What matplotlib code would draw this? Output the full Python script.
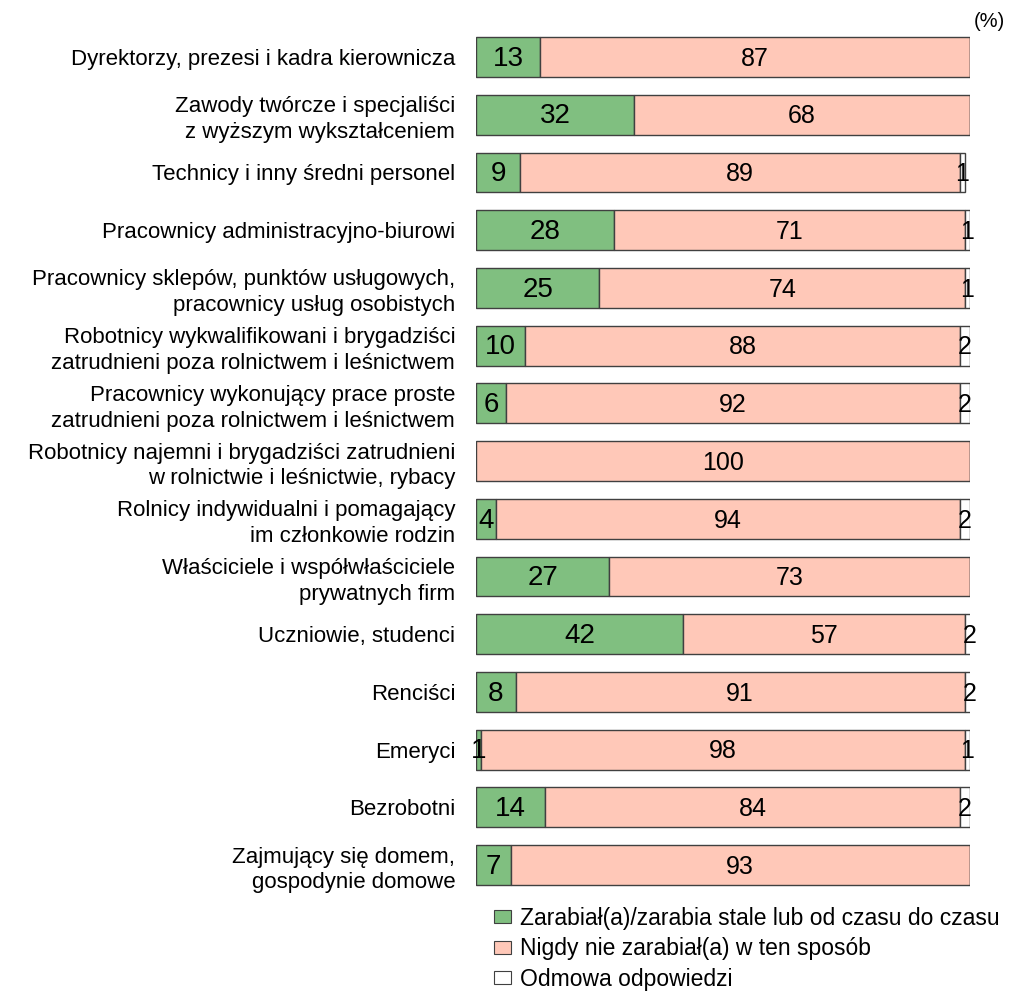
import matplotlib
matplotlib.use("Agg")
import matplotlib.pyplot as plt
import numpy as np
from matplotlib.patches import Patch

plt.rcParams["font.family"] = ["Liberation Sans", "DejaVu Sans"]

categories = [
    "Dyrektorzy, prezesi i kadra kierownicza",
    "Zawody twórcze i specjaliści\nz wyższym wykształceniem",
    "Technicy i inny średni personel",
    "Pracownicy administracyjno-biurowi",
    "Pracownicy sklepów, punktów usługowych,\npracownicy usług osobistych",
    "Robotnicy wykwalifikowani i brygadziści\nzatrudnieni poza rolnictwem i leśnictwem",
    "Pracownicy wykonujący prace proste\nzatrudnieni poza rolnictwem i leśnictwem",
    "Robotnicy najemni i brygadziści zatrudnieni\nw rolnictwie i leśnictwie, rybacy",
    "Rolnicy indywidualni i pomagający\nim członkowie rodzin",
    "Właściciele i współwłaściciele\nprywatnych firm",
    "Uczniowie, studenci",
    "Renciści",
    "Emeryci",
    "Bezrobotni",
    "Zajmujący się domem,\ngospodynie domowe",
]
earned = [13, 32, 9, 28, 25, 10, 6, 0, 4, 27, 42, 8, 1, 14, 7]
never = [87, 68, 89, 71, 74, 88, 92, 100, 94, 73, 57, 91, 98, 84, 93]
refused = [0, 0, 1, 1, 1, 2, 2, 0, 2, 0, 2, 2, 1, 2, 0]
series_names = [
    "Zarabiał(a)/zarabia stale lub od czasu do czasu",
    "Nigdy nie zarabiał(a) w ten sposób",
    "Odmowa odpowiedzi",
]

colors = ["#80bf80", "#ffc8b8", "#ffffff"]
label_sizes = [20, 18, 18]

fig = plt.figure(figsize=(10.10, 9.93), dpi=100)
ax = fig.add_axes([0.4713, 0.0997, 0.489, 0.872])

y = np.arange(len(categories))
left = np.zeros(len(categories))
for vals, col, fs in zip([earned, never, refused], colors, label_sizes):
    vals = np.array(vals, dtype=float)
    ax.barh(y, vals, left=left, height=0.69, color=col,
            edgecolor="#404040", linewidth=1.0)
    for yi, l, v in zip(y, left, vals):
        if v > 0:
            ax.text(l + v / 2, yi + 0.03, f"{int(v)}", ha="center", va="center",
                    fontsize=fs, color="black")
    left += vals

ax.set_xlim(0, 100)
ax.set_ylim(len(categories) - 0.5, -0.5)
ax.set_yticks(y)
ax.set_yticklabels(categories, fontsize=16, ha="right", linespacing=1.3)
ax.set_xticks([])
ax.tick_params(axis="y", length=0, pad=15)
for sp in ax.spines.values():
    sp.set_visible(False)

fig.text(0.995, 0.978, "(%)", ha="right", va="center", fontsize=14.5)

handles = [Patch(facecolor=c, edgecolor="#404040", linewidth=0.8) for c in colors]
fig.legend(handles, series_names, loc="upper left",
           bbox_to_anchor=(0.489, 0.087), frameon=False, fontsize=16.5,
           handlelength=0.75, handleheight=0.5, handletextpad=0.4,
           labelspacing=0.33, borderaxespad=0, borderpad=0)

fig.savefig("out.png", facecolor="white")
